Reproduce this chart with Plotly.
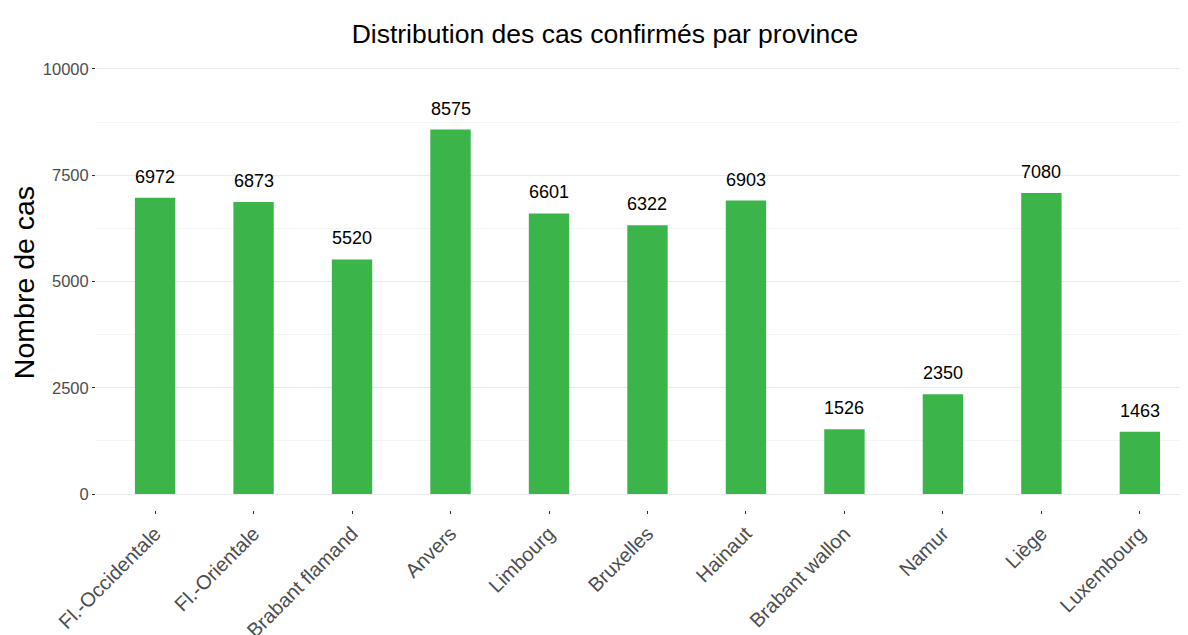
import plotly.graph_objects as go

provinces = ["Fl.-Occidentale", "Fl.-Orientale", "Brabant flamand", "Anvers", "Limbourg",
             "Bruxelles", "Hainaut", "Brabant wallon", "Namur", "Liège", "Luxembourg"]
cases = [6972, 6873, 5520, 8575, 6601, 6322, 6903, 1526, 2350, 7080, 1463]
y_ticks = [0, 2500, 5000, 7500, 10000]

fig = go.Figure()
fig.add_trace(go.Bar(
    x=list(range(len(provinces))), y=cases,
    marker=dict(color="#3BB54A", line=dict(width=0)),
    width=0.41, hoverinfo="x+y",
))
for i, v in enumerate(cases):
    fig.add_annotation(x=i, y=v, text=str(v), showarrow=False, yshift=21,
                       font=dict(size=18, color="#000000"))

fig.update_layout(
    width=1188, height=635,
    paper_bgcolor="white", plot_bgcolor="white",
    margin=dict(l=88, r=0, t=47, b=133, autoexpand=False),
    font=dict(family="Liberation Sans, Arial, sans-serif"),
    title=dict(text="Distribution des cas confirmés par province", x=0.5025, xanchor="center",
               y=0.96, yanchor="middle", font=dict(size=26.5, color="#000000")),
    showlegend=False,
    bargap=0.59,
)
fig.update_xaxes(
    tickmode="array", tickvals=list(range(len(provinces))), ticktext=provinces,
    range=[-0.6, 10.57], tickangle=-45, showgrid=False, zeroline=False,
    ticks="outside", ticklen=3, tickcolor="#333333", tickwidth=1,
    tickfont=dict(size=20, color="#4D4D4D"), showline=False, automargin=False,
)
fig.update_yaxes(
    range=[-376, 10329], tickmode="array", tickvals=y_ticks,
    ticktext=[str(t) for t in y_ticks],
    showgrid=True, gridcolor="#EBEBEB", gridwidth=1, zeroline=False,
    minor=dict(tickvals=[1250, 3750, 6250, 8750], showgrid=True, gridcolor="#F5F5F5", gridwidth=1, ticks=""),
    ticks="outside", ticklen=3, tickcolor="#333333", tickwidth=1,
    tickfont=dict(size=16.5, color="#4D4D4D"), automargin=False,
    title=dict(text="Nombre de cas", font=dict(size=28.5, color="#000000"), standoff=10),
)
fig.write_html("out.html")
